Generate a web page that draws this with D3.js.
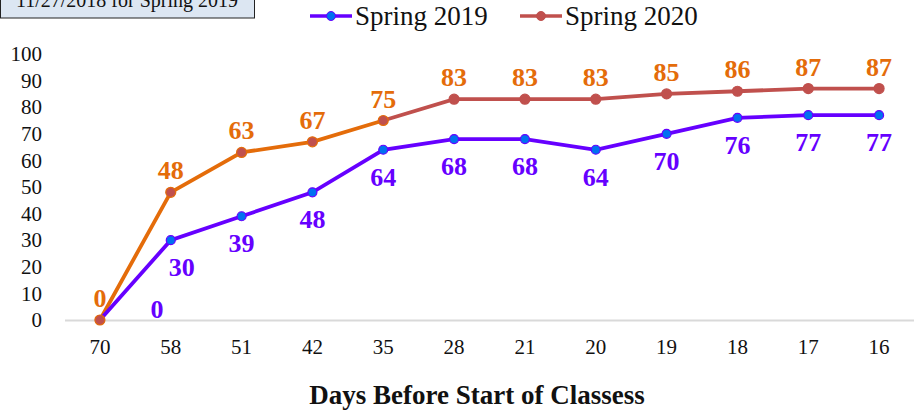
<!DOCTYPE html>
<html><head><meta charset="utf-8">
<script src="https://cdn.jsdelivr.net/npm/d3@7"></script>
<style>body{margin:0;background:#fff;}svg{display:block;font-family:"Liberation Serif","Times New Roman",serif;}</style>
</head><body><svg id="c" width="914" height="417"></svg>
<script>
const categories = ["70","58","51","42","35","28","21","20","19","18","17","16"];
const spring2019 = [0,30,39,48,64,68,68,64,70,76,77,77];
const spring2020 = [0,48,63,67,75,83,83,83,85,86,87,87];
const yTicks = [0,10,20,30,40,50,60,70,80,90,100];
const seriesNames = ["Spring 2019","Spring 2020"];
const noteText = "11/27/2018  for Spring 2019";
const xTitle = "Days Before Start of Classess";

const svg = d3.select("#c");
const x = d3.scaleBand().domain(categories).range([64.5, 914.5]);
const y = d3.scaleLinear().domain([0,100]).range([320, 54]);
const cx = d => x(d) + x.bandwidth()/2;

// note box
svg.append("rect").attr("x",0.5).attr("y",-10).attr("width",254).attr("height",28)
  .attr("fill","#DCE6F2").attr("stroke","#222").attr("stroke-width",1);
svg.append("text").attr("x",127).attr("y",7).attr("text-anchor","middle")
  .attr("font-size",20).attr("fill","#111").text(noteText);

// y axis labels
const yAxis = d3.axisLeft(y).tickValues(yTicks).tickSize(0).tickPadding(0);
const gy = svg.append("g").attr("transform","translate(42,0)").call(yAxis);
gy.attr("font-size",null).attr("font-family",null);
gy.select(".domain").remove();
gy.selectAll("text").style("font-size","21px").attr("fill","#111");

// x axis
const xAxis = d3.axisBottom(x).tickSize(0).tickPadding(19);
const gx = svg.append("g").attr("transform","translate(0,320)").call(xAxis);
gx.attr("font-size",null).attr("font-family",null);
gx.select(".domain").attr("stroke","#d9d9d9").attr("stroke-width",2);
gx.selectAll("text").style("font-size","21px").attr("fill","#111");

svg.append("text").attr("x",477).attr("y",404).attr("text-anchor","middle")
  .style("font-size","27px").attr("font-weight","bold").attr("fill","#111").text(xTitle);

const purple = "#6600FF", blue = "#0070F0", orange = "#E46C0A", red = "#C0504D";

// Spring 2020 line: orange until index 4, red afterwards
const pts20 = spring2020.map((v,i)=>[cx(categories[i]), y(v)]);
const line = d3.line();
svg.append("path").attr("d",line(pts20.slice(0,5))).attr("fill","none").attr("stroke",orange).attr("stroke-width",3.8);
svg.append("path").attr("d",line(pts20.slice(4))).attr("fill","none").attr("stroke",red).attr("stroke-width",3.8);

// Spring 2019 line
const pts19 = spring2019.map((v,i)=>[cx(categories[i]), y(v)]);
svg.append("path").attr("d",line(pts19)).attr("fill","none").attr("stroke",purple).attr("stroke-width",3.8);

svg.selectAll(".m19").data(spring2019).enter().append("circle")
  .attr("cx",(d,i)=>cx(categories[i])).attr("cy",d=>y(d)).attr("r",4.5)
  .attr("fill",blue).attr("stroke",purple).attr("stroke-width",1.2);
svg.selectAll(".m20").data(spring2020).enter().append("circle")
  .attr("cx",(d,i)=>cx(categories[i])).attr("cy",d=>y(d)).attr("r",5)
  .attr("fill",red).attr("stroke",(d,i)=>i<=4?orange:red).attr("stroke-width",1.2);

// labels
svg.selectAll(".l19").data(spring2019).enter().append("text")
  .attr("x",(d,i)=> i===0 ? cx(categories[i])+57 : cx(categories[i])+(i===1?11:0))
  .attr("y",(d,i)=> i===0 ? y(d)-2 : y(d)+36)
  .attr("text-anchor","middle").style("font-size","26px").attr("font-weight","bold")
  .attr("fill",purple).text(d=>d);
svg.selectAll(".l20").data(spring2020).enter().append("text")
  .attr("x",(d,i)=>cx(categories[i]))
  .attr("y",(d,i)=> y(d)-13)
  .attr("text-anchor","middle").style("font-size","26px").attr("font-weight","bold")
  .attr("fill",orange).text(d=>d);

// legend
const leg = [{name:seriesNames[0], x0:310, line:purple, fill:blue, stroke:purple},
             {name:seriesNames[1], x0:520, line:red, fill:red, stroke:red}];
leg.forEach(l=>{
  svg.append("line").attr("x1",l.x0).attr("x2",l.x0+42).attr("y1",16).attr("y2",16)
    .attr("stroke",l.line).attr("stroke-width",3.5);
  svg.append("circle").attr("cx",l.x0+21).attr("cy",16).attr("r",4.5).attr("fill",l.fill).attr("stroke",l.stroke);
  svg.append("text").attr("x",l.x0+45).attr("y",25).style("font-size","27px").attr("fill","#111").text(l.name);
});
</script></body></html>
